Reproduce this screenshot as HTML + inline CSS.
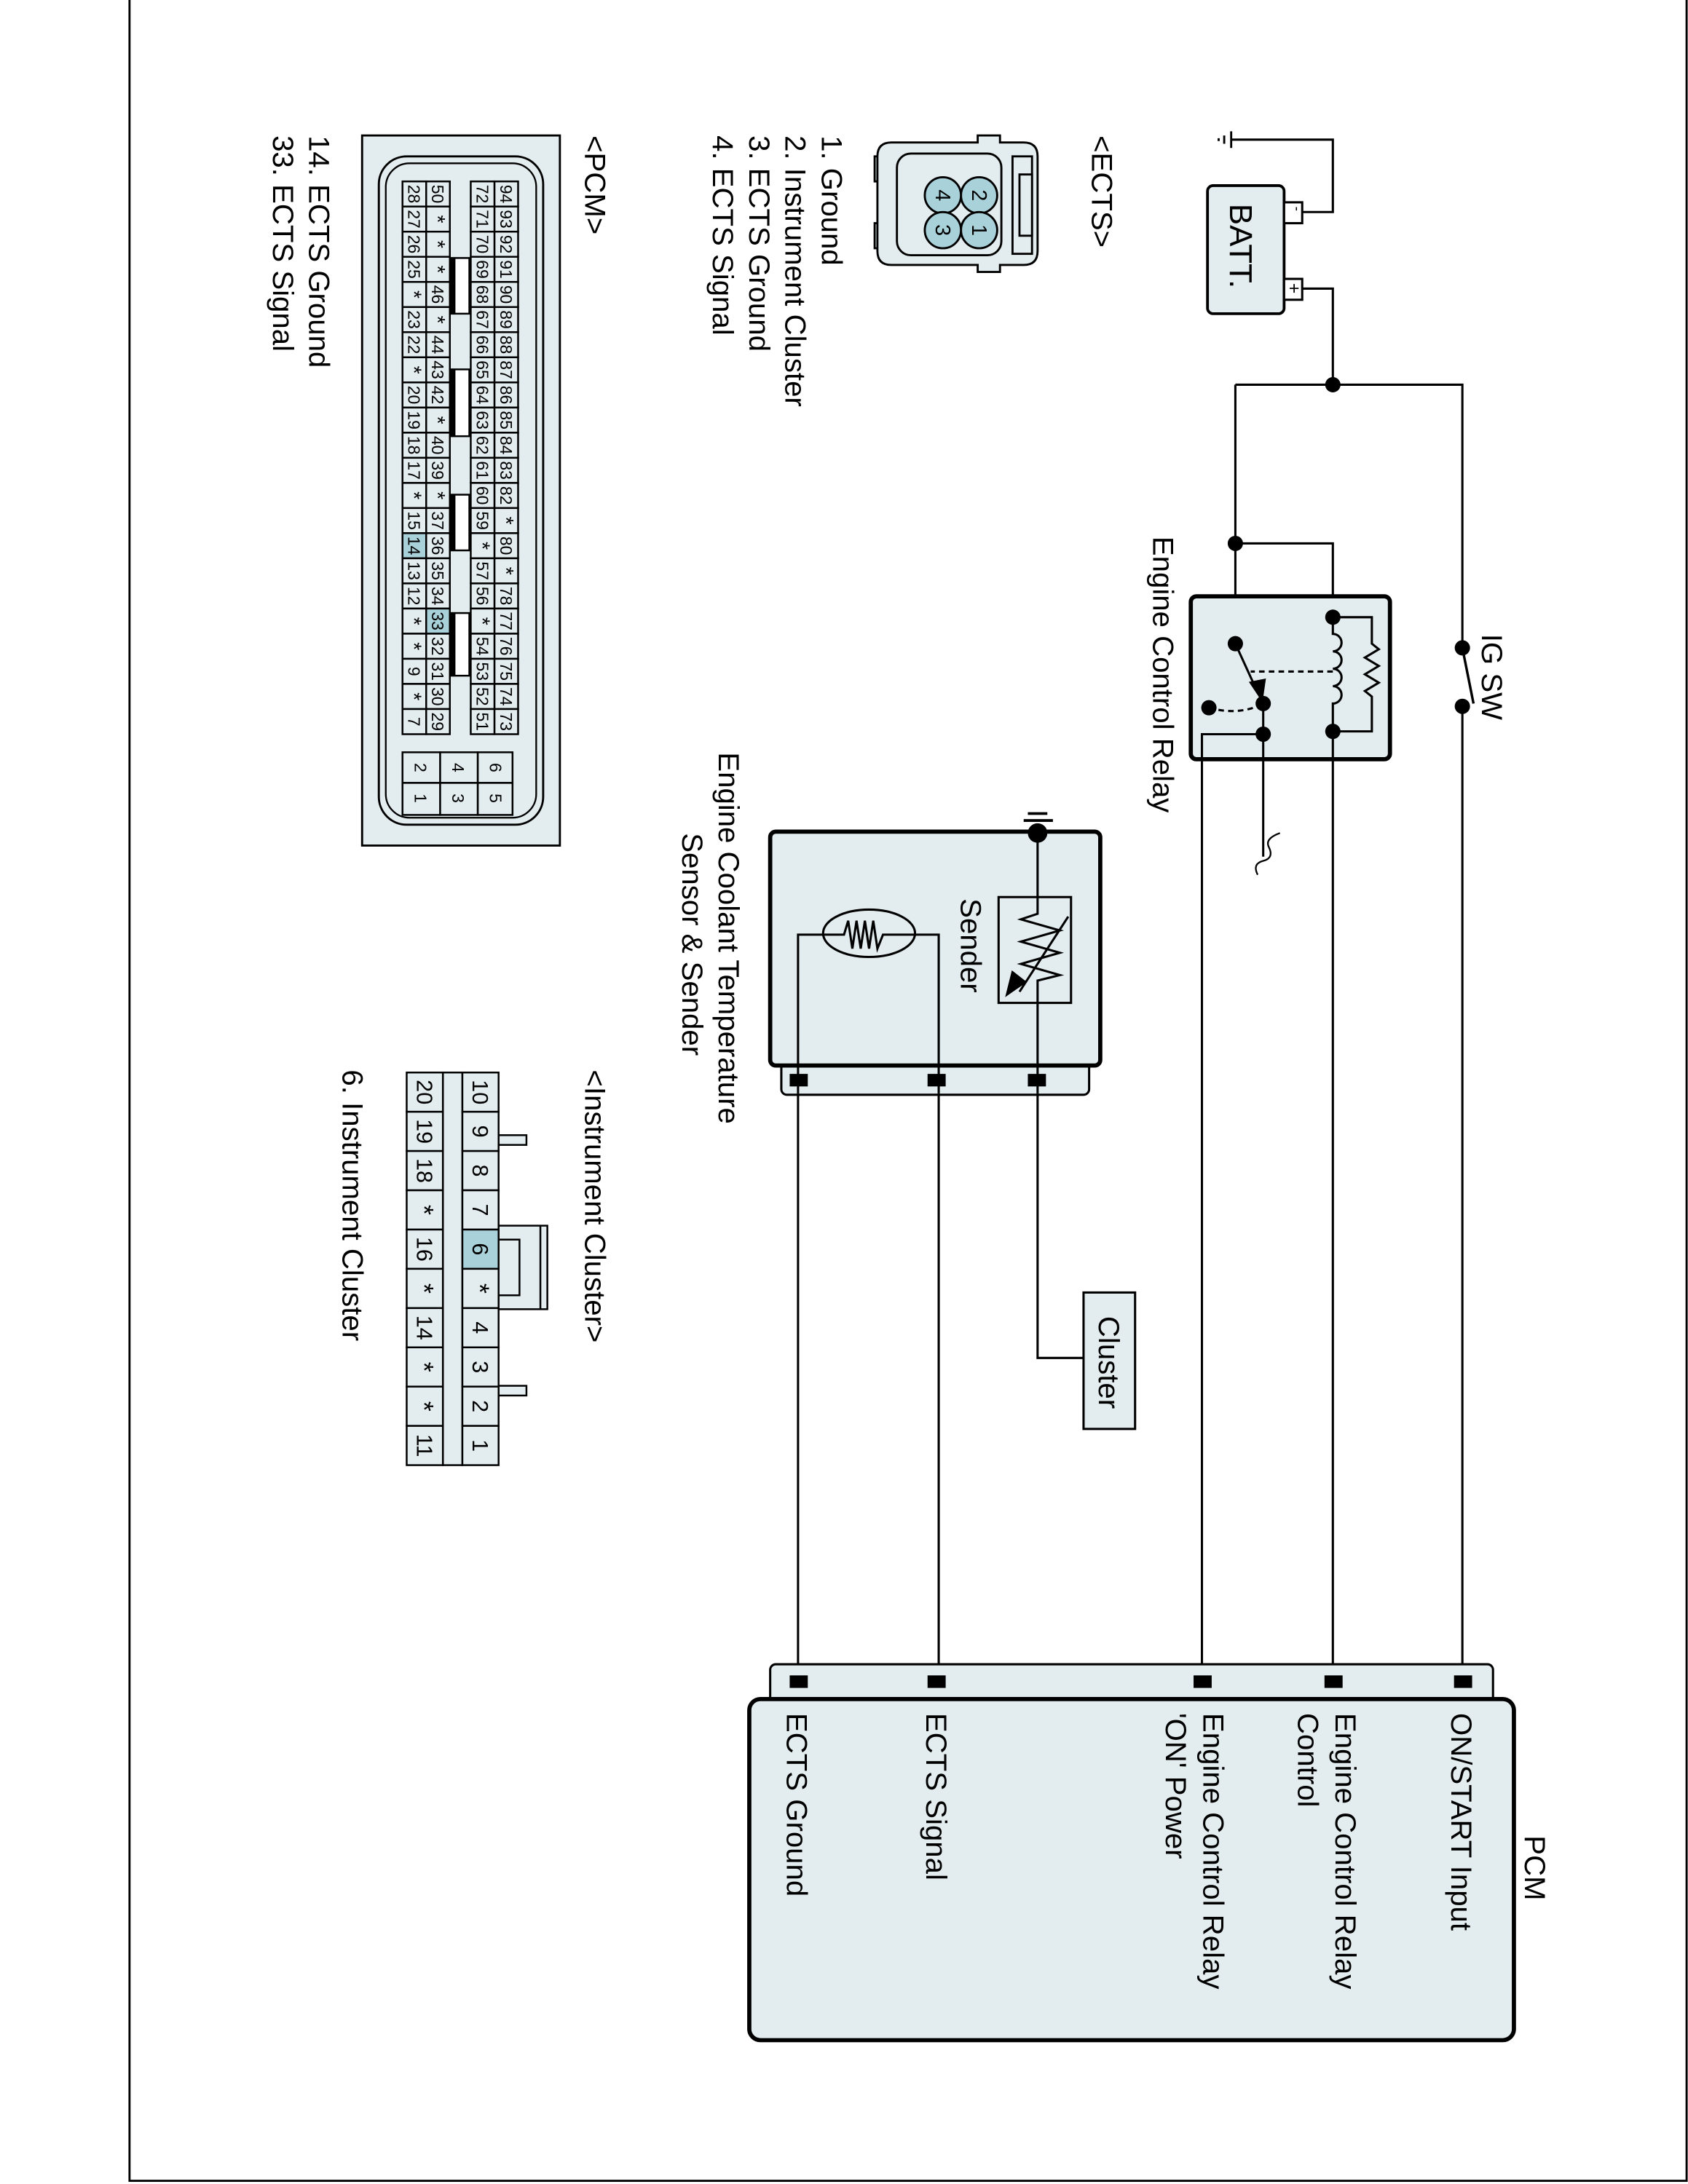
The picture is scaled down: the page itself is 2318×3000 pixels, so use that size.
<!DOCTYPE html>
<html><head><meta charset="utf-8"><style>
html,body{margin:0;padding:0;background:#fff}
svg{display:block}
text{font-family:"Liberation Sans",sans-serif;fill:#000}
</style></head><body>
<svg id="s" width="2318" height="3000" viewBox="0 0 1212 1568" xmlns="http://www.w3.org/2000/svg">
<rect x="93" y="-2" width="1118" height="1568" fill="none" stroke="#000" stroke-width="1.5"/>
<g stroke="#000" stroke-width="1.6" fill="none">
<rect x="867" y="133" width="55" height="92" rx="4" fill="#e3ecee" stroke-width="2"/>
<rect x="922" y="145" width="13" height="15" fill="#fff"/>
<rect x="922" y="200" width="13" height="15" fill="#fff"/>
<path d="M935,152 H957 V100 H884"/>
<path d="M884,94 V106 M879,97 V103 M875,99 V101" stroke-width="1.5"/>
<path d="M935,207 H957 V276"/>
<path d="M887,276 H1050 V465"/>
<path d="M887,276 V462"/>
<path d="M887,390 H957 V443"/>
<path d="M1050,507 V1207"/>
<path d="M1050,465 L1058,505" stroke-width="1.8"/>
<rect x="855" y="428" width="143" height="117" rx="4" fill="#e3ecee" stroke-width="3"/>
<path d="M957,443 V455 a6,6 0 0,1 0,12.5 a6,6 0 0,1 0,12.5 a6,6 0 0,1 0,12.5 a6,6 0 0,1 0,12.5 V525"/>
<path d="M957,443 H985 V462 L990,466 L980,472 L990,478 L980,484 L990,490 L980,496 L985,500 V525 H957"/>
<path d="M957,482 H898" stroke-dasharray="4,3"/>
<path d="M887,462 L903,497"/>
<path d="M898,490 L906,502 L908,488 Z" fill="#000"/>
<path d="M868,508 Q890,514 907,505" stroke-dasharray="4,3"/>
<path d="M907,527 H863 V1207"/>
<path d="M907,505 V615"/>
<path d="M957,525 V1207"/>
<path d="M903,628 q-4,-8 4,-10 q8,-2 4,-10 q-3,-6 8,-10" stroke-width="1.2"/>
<rect x="561" y="762" width="221" height="24" rx="4" fill="#e3ecee"/>
<rect x="553" y="597" width="237" height="168" rx="4" fill="#e3ecee" stroke-width="3"/>
<rect x="717" y="644" width="52" height="76"/>
<path d="M745,597 V656 L733,660 L761,668 L733,676 L761,684 L733,692 L761,700 L745,704 V785"/>
<path d="M767,658 L732,712" stroke-width="1.6"/>
<path d="M723,714 L736,705 L727,698 Z" fill="#000"/>
<path d="M738,584 H752 M735,589 H756" stroke-width="2"/>
<ellipse cx="624" cy="670" rx="33" ry="17" />
<path d="M573,785 V671 H606 L609,661 L612,681 L615,661 L618,681 L621,661 L624,681 L627,661 L630,681 L634,671 H674 V785"/>
<path d="M745,785 V975 H778"/>
<path d="M573,785 V1207 M674,785 V1207"/>
<rect x="778" y="928" width="37" height="98" fill="#e3ecee"/>
<rect x="553" y="1195" width="519" height="30" rx="4" fill="#e3ecee"/>
<rect x="538" y="1220" width="549" height="245" rx="8" fill="#e3ecee" stroke-width="3"/>
</g>
<g fill="#000">
<circle cx="957" cy="276" r="5.5"/><circle cx="887" cy="390" r="5.5"/>
<circle cx="1050" cy="465" r="5.5"/><circle cx="1050" cy="507" r="5.5"/>
<circle cx="957" cy="443" r="5.5"/><circle cx="957" cy="525" r="5.5"/>
<circle cx="887" cy="462" r="5.5"/><circle cx="907" cy="505" r="5.5"/>
<circle cx="868" cy="508" r="5.5"/><circle cx="907" cy="527" r="5.5"/>
<circle cx="745" cy="598" r="7"/>
<rect x="567" y="771" width="13" height="9"/><rect x="666" y="771" width="13" height="9"/><rect x="738" y="771" width="13" height="9"/>
<rect x="567" y="1203" width="13" height="9"/><rect x="666" y="1203" width="13" height="9"/><rect x="857" y="1203" width="13" height="9"/><rect x="951" y="1203" width="13" height="9"/><rect x="1044" y="1203" width="13" height="9"/>
</g>
<g font-size="21">
<text transform="translate(883,146) rotate(90)" font-size="23">BATT.</text>
<text transform="translate(928,148) rotate(90)" font-size="10">-</text>
<text transform="translate(925,203) rotate(90)" font-size="13">+</text>
<text transform="translate(1064,455) rotate(90)">IG SW</text>
<text transform="translate(828,385) rotate(90)">Engine Control Relay</text>
<text transform="translate(690,645) rotate(90)">Sender</text>
<text transform="translate(516,540) rotate(90)">Engine Coolant Temperature</text>
<text transform="translate(490,598) rotate(90)">Sensor &amp; Sender</text>
<text transform="translate(789,945) rotate(90)">Cluster</text>
<text transform="translate(1095,1318) rotate(90)">PCM</text>
<text transform="translate(1042,1230) rotate(90)">ON/START Input</text>
<text transform="translate(959,1230) rotate(90)">Engine Control Relay</text>
<text transform="translate(932,1230) rotate(90)">Control</text>
<text transform="translate(864,1230) rotate(90)">Engine Control Relay</text>
<text transform="translate(837,1230) rotate(90)">'ON' Power</text>
<text transform="translate(665,1230) rotate(90)">ECTS Signal</text>
<text transform="translate(565,1230) rotate(90)">ECTS Ground</text>
<text transform="translate(784,97) rotate(90)">&lt;ECTS&gt;</text>
<text transform="translate(590,97) rotate(90)">1. Ground</text>
<text transform="translate(564,97) rotate(90)">2. Instrument Cluster</text>
<text transform="translate(538,97) rotate(90)">3. ECTS Ground</text>
<text transform="translate(512,97) rotate(90)">4. ECTS Signal</text>
<text transform="translate(420,97) rotate(90)">&lt;PCM&gt;</text>
<text transform="translate(222,97) rotate(90)">14. ECTS Ground</text>
<text transform="translate(196,97) rotate(90)">33. ECTS Signal</text>
<text transform="translate(420,768) rotate(90)">&lt;Instrument Cluster&gt;</text>
<text transform="translate(246,768) rotate(90)">6. Instrument Cluster</text>
</g>
<g stroke="#000" stroke-width="1.5" fill="#e3ecee">
<path d="M640,112 H628 V130 H638 V160 H628 V178 H640"/>
<path d="M640,102 H702 V97 H718 V102 H735 Q745,102 745,112 V180 Q745,190 735,190 H718 V195 H702 V190 H640 Q630,190 630,180 V112 Q630,102 640,102 Z"/>
<rect x="644" y="110" width="75" height="73" rx="10"/>
<rect x="727" y="112" width="14" height="70" fill="#e3ecee"/>
<rect x="732" y="125" width="9" height="44"/>
<g fill="#a9d1da"><circle cx="703" cy="140" r="13"/><circle cx="703" cy="165" r="13"/><circle cx="677" cy="140" r="13"/><circle cx="677" cy="165" r="13"/></g>
</g>
<g font-size="15">
<text transform="translate(698,140) rotate(90)" text-anchor="middle">2</text>
<text transform="translate(698,165) rotate(90)" text-anchor="middle">1</text>
<text transform="translate(672,140) rotate(90)" text-anchor="middle">4</text>
<text transform="translate(672,165) rotate(90)" text-anchor="middle">3</text>
</g>
<rect x="260" y="97" width="142" height="510" fill="#e3ecee" stroke="#000" stroke-width="1.5"/>
<rect x="272" y="112" width="118" height="480" rx="20" fill="none" stroke="#000" stroke-width="1.5"/>
<rect x="277" y="117" width="108" height="470" rx="17" fill="none" stroke="#000" stroke-width="1.2"/>
<g id="pcm"></g>
<g stroke="#000" stroke-width="1.3" fill="#e3ecee">
<rect x="358" y="815" width="20" height="7"/><rect x="358" y="995" width="20" height="7"/>
<rect x="358" y="880" width="35" height="60"/><path d="M358,890 H373 V930 H358 M388,880 V940"/>
<rect x="318" y="770" width="14" height="282"/>
</g>
<g id="ic"></g>
<script>
(function(){
var ns="http://www.w3.org/2000/svg";
function R(g,x,y,w,h,f){var r=document.createElementNS(ns,"rect");r.setAttribute("x",x);r.setAttribute("y",y);r.setAttribute("width",w);r.setAttribute("height",h);r.setAttribute("fill",f);r.setAttribute("stroke","#000");r.setAttribute("stroke-width","1.3");g.appendChild(r);}
function T(g,cx,cy,s,fs){var t=document.createElementNS(ns,"text");t.setAttribute("transform","translate("+(cx-fs*0.36)+","+cy+") rotate(90)");t.setAttribute("text-anchor","middle");t.setAttribute("font-size",fs);t.textContent=s;g.appendChild(t);}
var g=document.getElementById("pcm");
var cols=[[355,"94 93 92 91 90 89 88 87 86 85 84 83 82 * 80 * 78 77 76 75 74 73"],[338,"72 71 70 69 68 67 66 65 64 63 62 61 60 59 * 57 56 * 54 53 52 51"],[306,"50 * * * 46 * 44 43 42 * 40 39 * 37 36 35 34 33 32 31 30 29"],[289,"28 27 26 25 * 23 22 * 20 19 18 17 * 15 14 13 12 * * 9 * 7"]];
var h=397/22;
cols.forEach(function(c){c[1].split(" ").forEach(function(v,i){var y=130+i*h;R(g,c[0],y,17,h,(v=="33"||v=="14")?"#a9d1da":"#e3ecee");T(g,c[0]+8.5,y+h/2,v,v=="*"?15:12);});});
[[185,225],[265,313],[355,395],[440,485]].forEach(function(b){R(g,323,b[0],14,b[1]-b[0],"#fff");var r=document.createElementNS(ns,"rect");r.setAttribute("x",323);r.setAttribute("y",b[0]);r.setAttribute("width",4);r.setAttribute("height",b[1]-b[0]);g.appendChild(r);});
[[343,"6","5"],[316,"4","3"],[289,"2","1"]].forEach(function(c){R(g,c[0],540,c[0]==343?25:27,22,"#e3ecee");R(g,c[0],562,c[0]==343?25:27,23,"#e3ecee");T(g,c[0]+13,551,c[1],12);T(g,c[0]+13,573,c[2],12);});
var ic=document.getElementById("ic");var ch=282/10;
"10 9 8 7 6 * 4 3 2 1".split(" ").forEach(function(v,i){var y=770+i*ch;R(ic,332,y,26,ch,v=="6"?"#a9d1da":"#e3ecee");T(ic,345,y+ch/2,v,v=="*"?19:16);});
"20 19 18 * 16 * 14 * * 11".split(" ").forEach(function(v,i){var y=770+i*ch;R(ic,292,y,26,ch,"#e3ecee");T(ic,305,y+ch/2,v,v=="*"?19:16);});
})();
</script>
</svg>
</body></html>
